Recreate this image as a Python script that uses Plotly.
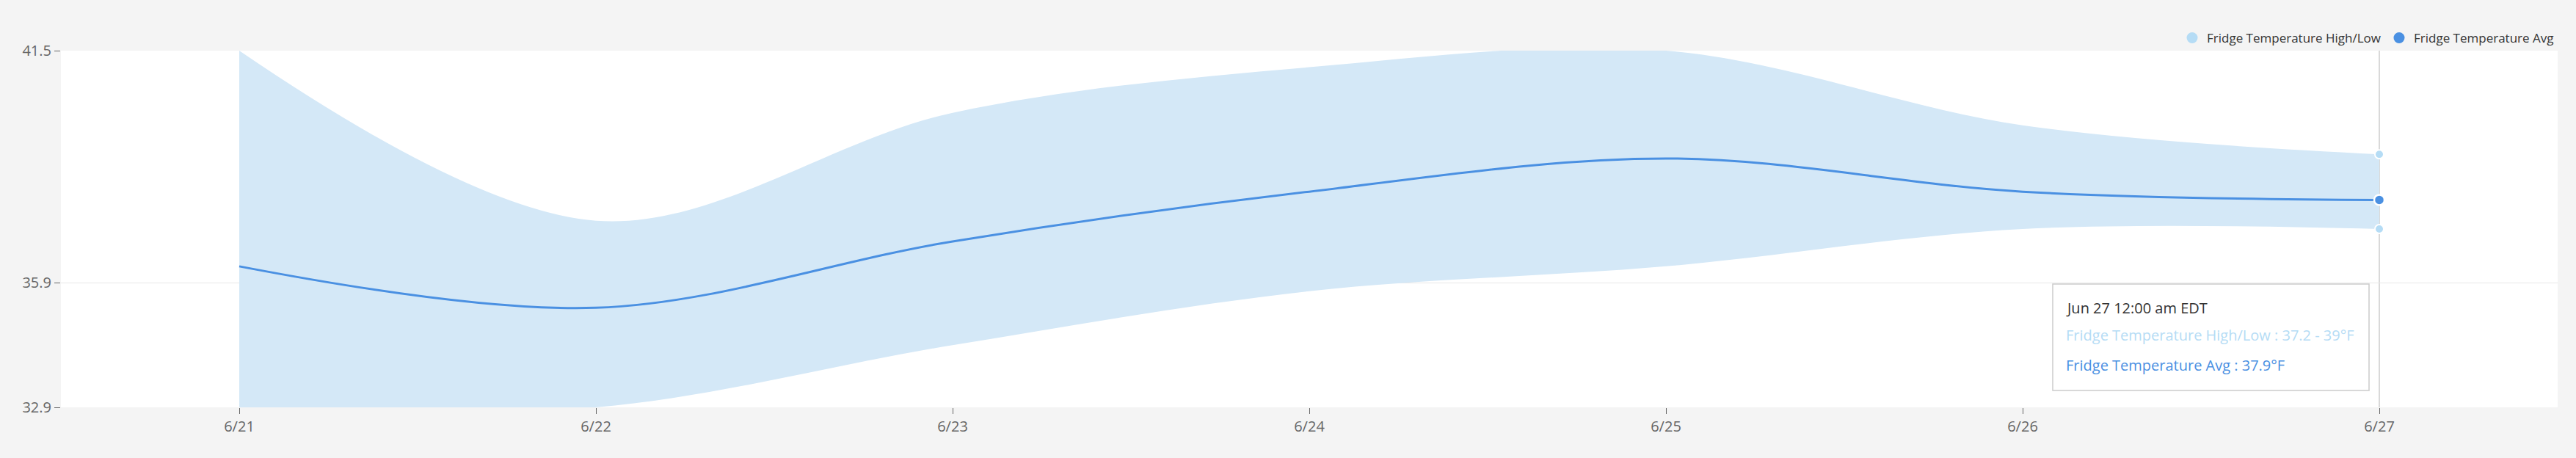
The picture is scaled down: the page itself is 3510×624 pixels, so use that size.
import plotly.graph_objects as go

# ---- data ----
dates = ["2024-06-21", "2024-06-22", "2024-06-23", "2024-06-24",
         "2024-06-25", "2024-06-26", "2024-06-27"]
temp_high = [41.5, 37.4, 40.0, 41.1, 41.5, 39.7, 39.0]
temp_low = [32.9, 32.9, 34.4, 35.7, 36.3, 37.2, 37.2]
temp_avg = [36.3, 35.3, 36.9, 38.1, 38.9, 38.1, 37.9]
y_ticks = [32.9, 35.9, 41.5]
x_range = ["2024-06-20 12:00", "2024-06-27 12:00"]

name_hl = "Fridge Temperature High/Low"
name_avg = "Fridge Temperature Avg"
tooltip_lines = ["Jun 27 12:00 am EDT",
                 f"{name_hl} : {temp_low[-1]} - {temp_high[-1]:g}°F",
                 f"{name_avg} : {temp_avg[-1]}°F"]

# ---- styles ----
FONT = "Open Sans, Noto Sans, sans-serif"
C_BAND = "rgba(212,232,247,1)"
C_HL = "#b5dcf5"
C_AVG = "#4a90e2"
W, H = 3510, 624
ML, MR, MT, MB = 83, 25, 69, 69
PW, PH = W - ML - MR, H - MT - MB


def px(x):
    return (x - ML) / PW


def py(y):
    return (H - MB - y) / PH


fig = go.Figure()
fig.add_trace(go.Scatter(x=dates, y=temp_low, mode="lines",
                         line=dict(width=0, shape="spline", color=C_BAND),
                         showlegend=False, hoverinfo="skip"))
fig.add_trace(go.Scatter(x=dates, y=temp_high, mode="lines", fill="tonexty",
                         fillcolor=C_BAND,
                         line=dict(width=0, shape="spline", color=C_BAND),
                         showlegend=False, hoverinfo="skip"))
fig.add_trace(go.Scatter(x=dates, y=temp_avg, mode="lines",
                         line=dict(width=3, shape="spline", color=C_AVG),
                         showlegend=False, hoverinfo="skip"))
# hovered points
fig.add_trace(go.Scatter(x=[dates[-1], dates[-1]], y=[temp_high[-1], temp_low[-1]],
                         mode="markers", name=name_hl,
                         marker=dict(size=12, color=C_HL, line=dict(color="white", width=2)),
                         showlegend=False, cliponaxis=False))
fig.add_trace(go.Scatter(x=[dates[-1]], y=[temp_avg[-1]], mode="markers", name=name_avg,
                         marker=dict(size=14, color=C_AVG, line=dict(color="white", width=2.5)),
                         showlegend=False, cliponaxis=False))
# legend entries
fig.add_trace(go.Scatter(x=[None], y=[None], mode="markers", name=name_hl,
                         marker=dict(size=15, color=C_HL)))
fig.add_trace(go.Scatter(x=[None], y=[None], mode="markers", name=name_avg,
                         marker=dict(size=15, color=C_AVG)))

# crosshair
fig.add_shape(type="line", xref="x", yref="paper", x0=dates[-1], x1=dates[-1],
              y0=0, y1=1, line=dict(color="#cccccc", width=1.5), layer="below")

# tooltip box
fig.add_shape(type="rect", xref="paper", yref="paper",
              x0=px(2797), x1=px(3228), y0=py(532), y1=py(387),
              line=dict(color="#cccccc", width=1.5), fillcolor="white", layer="above")
for txt, yy, col in zip(tooltip_lines, [419, 456, 497], ["#333333", C_HL, C_AVG]):
    fig.add_annotation(xref="paper", yref="paper", x=px(2813), y=py(yy),
                       xanchor="left", yanchor="middle", showarrow=False,
                       text=txt, font=dict(family=FONT, size=20, color=col))

fig.update_layout(
    width=W, height=H,
    margin=dict(l=ML, r=MR, t=MT, b=MB, autoexpand=False),
    paper_bgcolor="#f4f4f4", plot_bgcolor="white",
    font=dict(family=FONT, color="#666666"),
    showlegend=True,
    legend=dict(orientation="h", x=1, xanchor="right", y=py(52), yanchor="middle",
                traceorder="normal",
                bgcolor="rgba(0,0,0,0)", font=dict(size=17, color="#333333"),
                itemclick=False),
    xaxis=dict(type="date", range=x_range, tickvals=dates, tickformat="%-m/%-d",
               showgrid=False, zeroline=False, showline=False, automargin=False,
               ticks="outside", ticklen=8, tickcolor="#666666", tickwidth=1,
               tickfont=dict(size=20, color="#666666")),
    yaxis=dict(range=[y_ticks[0], y_ticks[-1]], tickvals=y_ticks,
               ticktext=[f"{v:.1f}" for v in y_ticks], automargin=False,
               showgrid=True, gridcolor="#e8e8e8", gridwidth=1,
               zeroline=False, showline=False,
               ticks="outside", ticklen=8, tickcolor="#666666", tickwidth=1,
               tickfont=dict(size=20, color="#666666")),
)

fig.write_html("out.html",
               config={"displayModeBar": False},
               post_script="document.body.style.margin='0';"
                           "document.body.style.background='#f4f4f4';")
